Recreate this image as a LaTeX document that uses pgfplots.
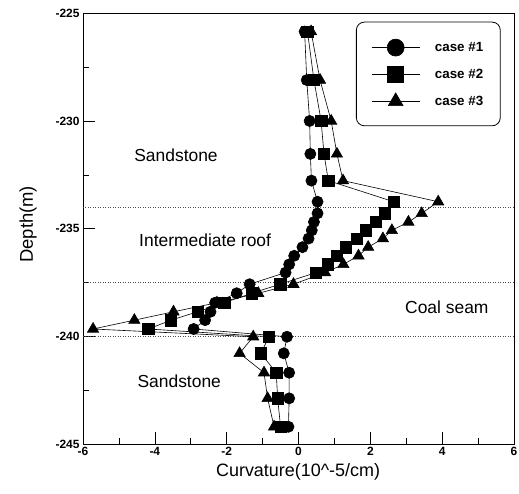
\documentclass[border=0pt]{standalone}
\usepackage{fontspec}
\setmainfont{Liberation Sans}
\usepackage{pgfplots}
\pgfplotsset{compat=1.18}

\begin{document}
\begin{tikzpicture}
\begin{axis}[
  name=ax, scale only axis, width=431bp, height=430.7bp,
  xmin=-6, xmax=6, ymin=-245, ymax=-225,
  xtick={-6,-4,...,6}, xticklabels={-6,-4,-2,0,2,4,6},
  ytick={-245,-240,...,-225}, yticklabels={-245,-240,-235,-230,-225},
  minor x tick num=1, minor y tick num=1,
  tick align=inside, xtick pos=bottom, ytick pos=left,
  major tick length=12bp, minor tick length=6bp,
  axis line style={line width=0.8bp},
  tick style={black, line width=0.6bp},
  tick label style={font=\bfseries\fontsize{12}{14}\selectfont},
  xlabel={Curvature(10\textasciicircum-5/cm)},
  ylabel={Depth(m)},
  every axis x label/.style={at={(axis description cs:0.499,-0.065)}, anchor=center,
    font=\fontsize{18}{21}\selectfont},
  every axis y label/.style={at={(axis description cs:-0.1276,0.51)}, rotate=90, anchor=center,
    font=\fontsize{18.5}{21}\selectfont},
  legend style={at={(axis description cs:0.969,0.9805)}, anchor=north east,
    draw=black, line width=0.8bp, rounded corners=8bp,
    inner xsep=15bp, inner ysep=17bp, row sep=10.4bp, column sep=13bp,
    nodes={inner sep=2bp}, font=\bfseries\fontsize{13.4}{16}\selectfont},
  legend cell align=left,
  legend image code/.code={\draw[mark repeat=2, mark phase=2, line width=0.6bp]
    plot coordinates {(0bp,0bp) (24bp,0bp) (48bp,0bp)};},
]
% layer boundaries
\addplot[forget plot, black!70, line width=0.6bp, dash pattern=on 1bp off 1.5bp] coordinates {(-6,-234) (6,-234)};
\addplot[forget plot, black!70, line width=0.6bp, dash pattern=on 1bp off 1.5bp] coordinates {(-6,-237.5) (6,-237.5)};
\addplot[forget plot, black!70, line width=0.6bp, dash pattern=on 1bp off 1.5bp] coordinates {(-6,-240) (6,-240)};

% case #1
\addplot[black, line width=0.6bp, mark=*, mark size=5.6bp,
  legend image post style={mark size=8.5bp}] table {
x y
0.17 -225.85
0.23 -228.1
0.31 -230.0
0.33 -231.53
0.36 -232.77
0.53 -233.75
0.53 -234.29
0.43 -234.69
0.37 -235.08
0.28 -235.46
0.11 -235.86
-0.12 -236.26
-0.26 -236.66
-0.36 -237.04
-1.36 -237.58
-1.72 -238.0
-2.32 -238.44
-2.45 -238.86
-2.60 -239.25
-2.92 -239.66
-0.32 -240.02
-0.41 -240.79
-0.26 -241.69
-0.26 -242.88
-0.28 -244.2
};
\addlegendentry{case \#1}

% case #2
\addplot[black, line width=0.6bp, mark=square*, mark size=5.7bp,
  legend image post style={mark size=8bp}] table {
x y
0.25 -225.85
0.43 -228.1
0.63 -230.0
0.71 -231.53
0.83 -232.77
2.65 -233.75
2.41 -234.29
2.16 -234.69
1.88 -235.08
1.62 -235.46
1.32 -235.86
1.07 -236.26
0.82 -236.66
0.49 -237.04
-0.51 -237.58
-1.30 -238.0
-2.07 -238.44
-2.81 -238.86
-3.55 -239.25
-4.18 -239.66
-0.82 -240.02
-1.05 -240.79
-0.62 -241.69
-0.58 -242.88
-0.50 -244.2
};
\addlegendentry{case \#2}

% case #3
\addplot[black, line width=0.6bp, mark=triangle*, mark size=6.5bp,
  legend image post style={mark size=8.5bp}] table {
x y
0.35 -225.85
0.60 -228.1
0.91 -230.0
1.07 -231.53
1.24 -232.77
3.89 -233.75
3.43 -234.29
3.06 -234.69
2.60 -235.08
2.35 -235.46
1.94 -235.86
1.67 -236.26
1.25 -236.66
0.74 -237.04
-0.14 -237.58
-1.12 -238.0
-2.27 -238.44
-3.48 -238.86
-4.57 -239.25
-5.72 -239.66
-1.26 -240.02
-1.64 -240.79
-0.96 -241.69
-0.86 -242.88
-0.68 -244.2
};
\addlegendentry{case \#3}

\node[font=\fontsize{17.5}{20}\selectfont] at (axis cs:-3.41,-231.58) {Sandstone};
\node[font=\fontsize{17.5}{20}\selectfont] at (axis cs:-2.60,-235.53) {Intermediate roof};
\node[font=\fontsize{17.5}{20}\selectfont] at (axis cs:4.13,-238.67) {Coal seam};
\node[font=\fontsize{17.5}{20}\selectfont] at (axis cs:-3.32,-242.11) {Sandstone};
\end{axis}
\pgfresetboundingbox
\path[use as bounding box] ([xshift=-83bp,yshift=-50bp]ax.south west) rectangle ([xshift=5bp,yshift=13.3bp]ax.north east);
\end{tikzpicture}
\end{document}
